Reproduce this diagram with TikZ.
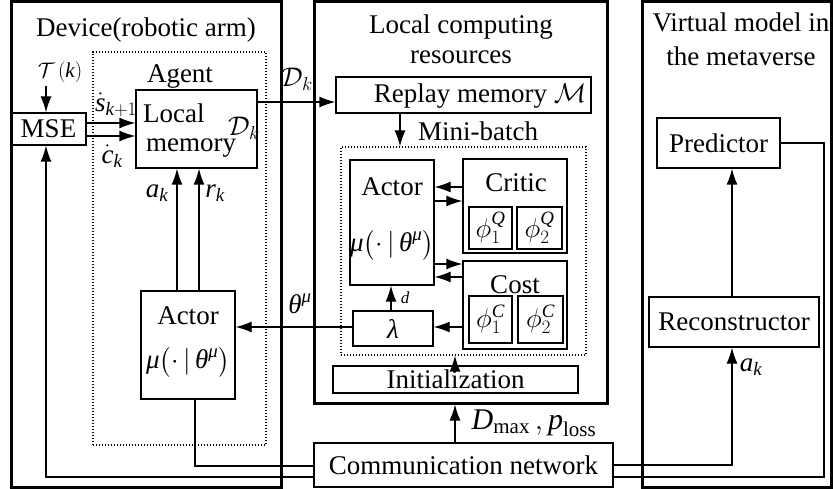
\documentclass[tikz,border=0pt]{standalone}
\usepackage{fix-cm}
\usepackage{amsmath}
\usepackage{fontspec}
\setmainfont{Liberation Serif}
\usetikzlibrary{arrows.meta}

% italic letters (Latin or Greek) taken from the text font
\newcommand{\tmi}[1]{\textit{#1}}
% policy of an actor network
\newcommand{\policy}{$\tmi{μ}\bigl(\cdot\,|\,\tmi{θ}^{\tmi{μ}}\bigr)$}
% rectangle node given by its two corners: [style]{name}{x1}{y1}{x2}{y2}{text}
\newcommand{\rectnode}[7][]{%
  \node[#1, minimum width={#5-#3}, minimum height={#6-#4}] (#2)
    at ({(#3+#5)/2},{(#4+#6)/2}) {#7};}

\begin{document}
\begin{tikzpicture}[x=1pt,y=-1pt,
  txt/.style={font=\fontsize{27}{31}\selectfont, inner sep=0pt},
  frame/.style={draw, line width=3pt, inner sep=0pt},
  box/.style={draw, line width=1.3pt, inner sep=0pt, font=\fontsize{27}{31}\selectfont},
  dots/.style={draw, line width=1.2pt, dash pattern=on 1.4pt off 1.6pt, inner sep=0pt},
  link/.style={line width=1.3pt},
  arr/.style={link, -{Latex[length=16pt,width=11pt]}},
]
\useasboundingbox (0,0) rectangle (833,489);

% ---------------- Device (robotic arm) ----------------
\rectnode[frame]{dev}{11}{2}{281}{487}{}
\node[txt] (devT) at (146,30) {Device(robotic arm)};
\rectnode[dots]{agent}{93}{52}{266}{445}{}
\node[txt] (agentT) at (180,77) {Agent};

\rectnode[box]{mem}{136}{90}{257}{168}{}
\node[txt, anchor=base west] (memL) at (143,123) {Local};
\node[txt, anchor=base west] (memM) at (146,152) {memory};
\node[txt] (memD) at (244,128) {$\mathcal{D}_k$};

\rectnode[box]{mse}{11}{113}{86}{145}{MSE}
\node[txt, font=\fontsize{21}{25}\selectfont] (tk) at (60,72) {$\mathcal{T}\,(\tmi{k})$};
\coordinate (tkin) at (46,86);
\draw[arr] (tkin) -- (mse.north -| tkin);

\draw[arr] (mse.east |- 0,123) -- (mem.west |- 0,123);
\draw[arr] (mse.east |- 0,136) -- (mem.west |- 0,136);
\node[txt] (sdot) at (116,105) {$\dot{\tmi{s}}_{\tmi{k}+1}$};
\node[txt] (cdot) at (112,156) {$\dot{\tmi{c}}_{\tmi{k}}$};

\rectnode[box]{actD}{141}{291}{235}{399}{}
\node[txt] (actDT) at (188,316) {Actor};
\node[txt] (actDF) at (188,362) {\policy};

\draw[arr] (actD.north -| 177,0) -- (mem.south -| 177,0);
\draw[arr] (actD.north -| 199,0) -- (mem.south -| 199,0);
\node[txt] (akD) at (157,193) {$\tmi{a}_{\tmi{k}}$};
\node[txt] (rkD) at (215,193) {$\tmi{r}_{\tmi{k}}$};

% ---------------- Local computing resources ----------------
\rectnode[frame]{lcr}{314}{2}{607}{403}{}
\node[txt] (lcrT1) at (461,27) {Local computing};
\node[txt] (lcrT2) at (461,57) {resources};

\rectnode[box]{rep}{336}{77}{591}{113}{}
\node[txt] (repT) at (480,96) {Replay memory $\mathcal{M}$};
\draw[arr] (mem.east |- 0,102) -- (rep.west |- 0,102);
\node[txt] (dk) at (297,79) {$\mathcal{D}_k$};

\rectnode[dots]{mb}{341}{147}{586}{355}{}
\draw[arr] (rep.south -| 400,0) -- (mb.north -| 400,0);
\node[txt] (mbT) at (478,131) {Mini-batch};

\rectnode[box]{actL}{350}{160}{434}{285}{}
\node[txt] (actLT) at (392,187) {Actor};
\node[txt] (actLF) at (392,245) {\policy};

\rectnode[box]{crit}{463}{159}{567}{253}{}
\node[txt] (critT) at (516,183) {Critic};
\rectnode[box]{q1}{469}{207}{512}{249}{$\phi_1^{\tmi{Q}}$}
\rectnode[box]{q2}{517}{207}{562}{249}{$\phi_2^{\tmi{Q}}$}

\rectnode[box]{cost}{463}{261}{567}{349}{}
\node[txt] (costT) at (515,285) {Cost};
\rectnode[box]{c1}{469}{296}{512}{343}{$\phi_1^{\tmi{C}}$}
\rectnode[box]{c2}{518}{296}{563}{343}{$\phi_2^{\tmi{C}}$}

\draw[arr] (crit.west |- 0,187) -- (actL.east |- 0,187);
\draw[arr] (actL.east |- 0,201) -- (crit.west |- 0,201);
\draw[arr] (actL.east |- 0,264) -- (cost.west |- 0,264);
\draw[arr] (cost.west |- 0,277) -- (actL.east |- 0,277);

\rectnode[box]{lam}{353}{311}{433}{346}{$\tmi{λ}$}
\draw[arr] (lam.north -| 391,0) -- (actL.south -| 391,0);
\node[txt, font=\fontsize{17}{20}\selectfont] (dlab) at (405,298) {$\tmi{d}$};
\draw[arr] (cost.west |- 0,327) -- (lam.east |- 0,327);
\draw[arr] (lam.west |- 0,327) -- (actD.east |- 0,327);
\node[txt] (thmu) at (300,304) {$\tmi{θ}^{\tmi{μ}}$};

\rectnode[box]{init}{333}{366}{578}{393}{Initialization}
\draw[arr] (init.north -| 455,0) -- (mb.south -| 455,0);

% ---------------- Virtual model in the metaverse ----------------
\rectnode[frame]{vm}{642}{2}{831}{487}{}
\node[txt] (vmT1) at (741,22) {Virtual model in};
\node[txt] (vmT2) at (741,56) {the metaverse};
\rectnode[box]{pred}{657}{118}{780}{168}{Predictor}
\rectnode[box]{rec}{649}{297}{819}{347}{Reconstructor}
\draw[arr] (rec.north -| 732,0) -- (pred.south -| 732,0);
\node[txt] (akV) at (751,367) {$\tmi{a}_{\tmi{k}}$};

% ---------------- Communication network ----------------
\rectnode[frame, line width=2.5pt, font=\fontsize{27}{31}\selectfont]{comm}{314}{443}{613}{487}{Communication network}
\draw[arr] (comm.north -| 455,0) -- (lcr.south -| 455,0);
\node[txt, font=\fontsize{30}{34}\selectfont] (dp) at (534,423)
  {$\tmi{D}_{\text{max}}\,,\tmi{p}_{\text{loss}}$};

\draw[link] (comm.west |- 0,466) -| (actD.south -| 195,0);
\draw[arr] (comm.west |- 0,477) -| (mse.south -| 46,0);
\draw[arr] (comm.east |- 0,465) -| (rec.south -| 732,0);
\coordinate (back) at (824,477);
\draw[link] (pred.east) -| (back) -- (comm.east |- back);

\end{tikzpicture}
\end{document}
